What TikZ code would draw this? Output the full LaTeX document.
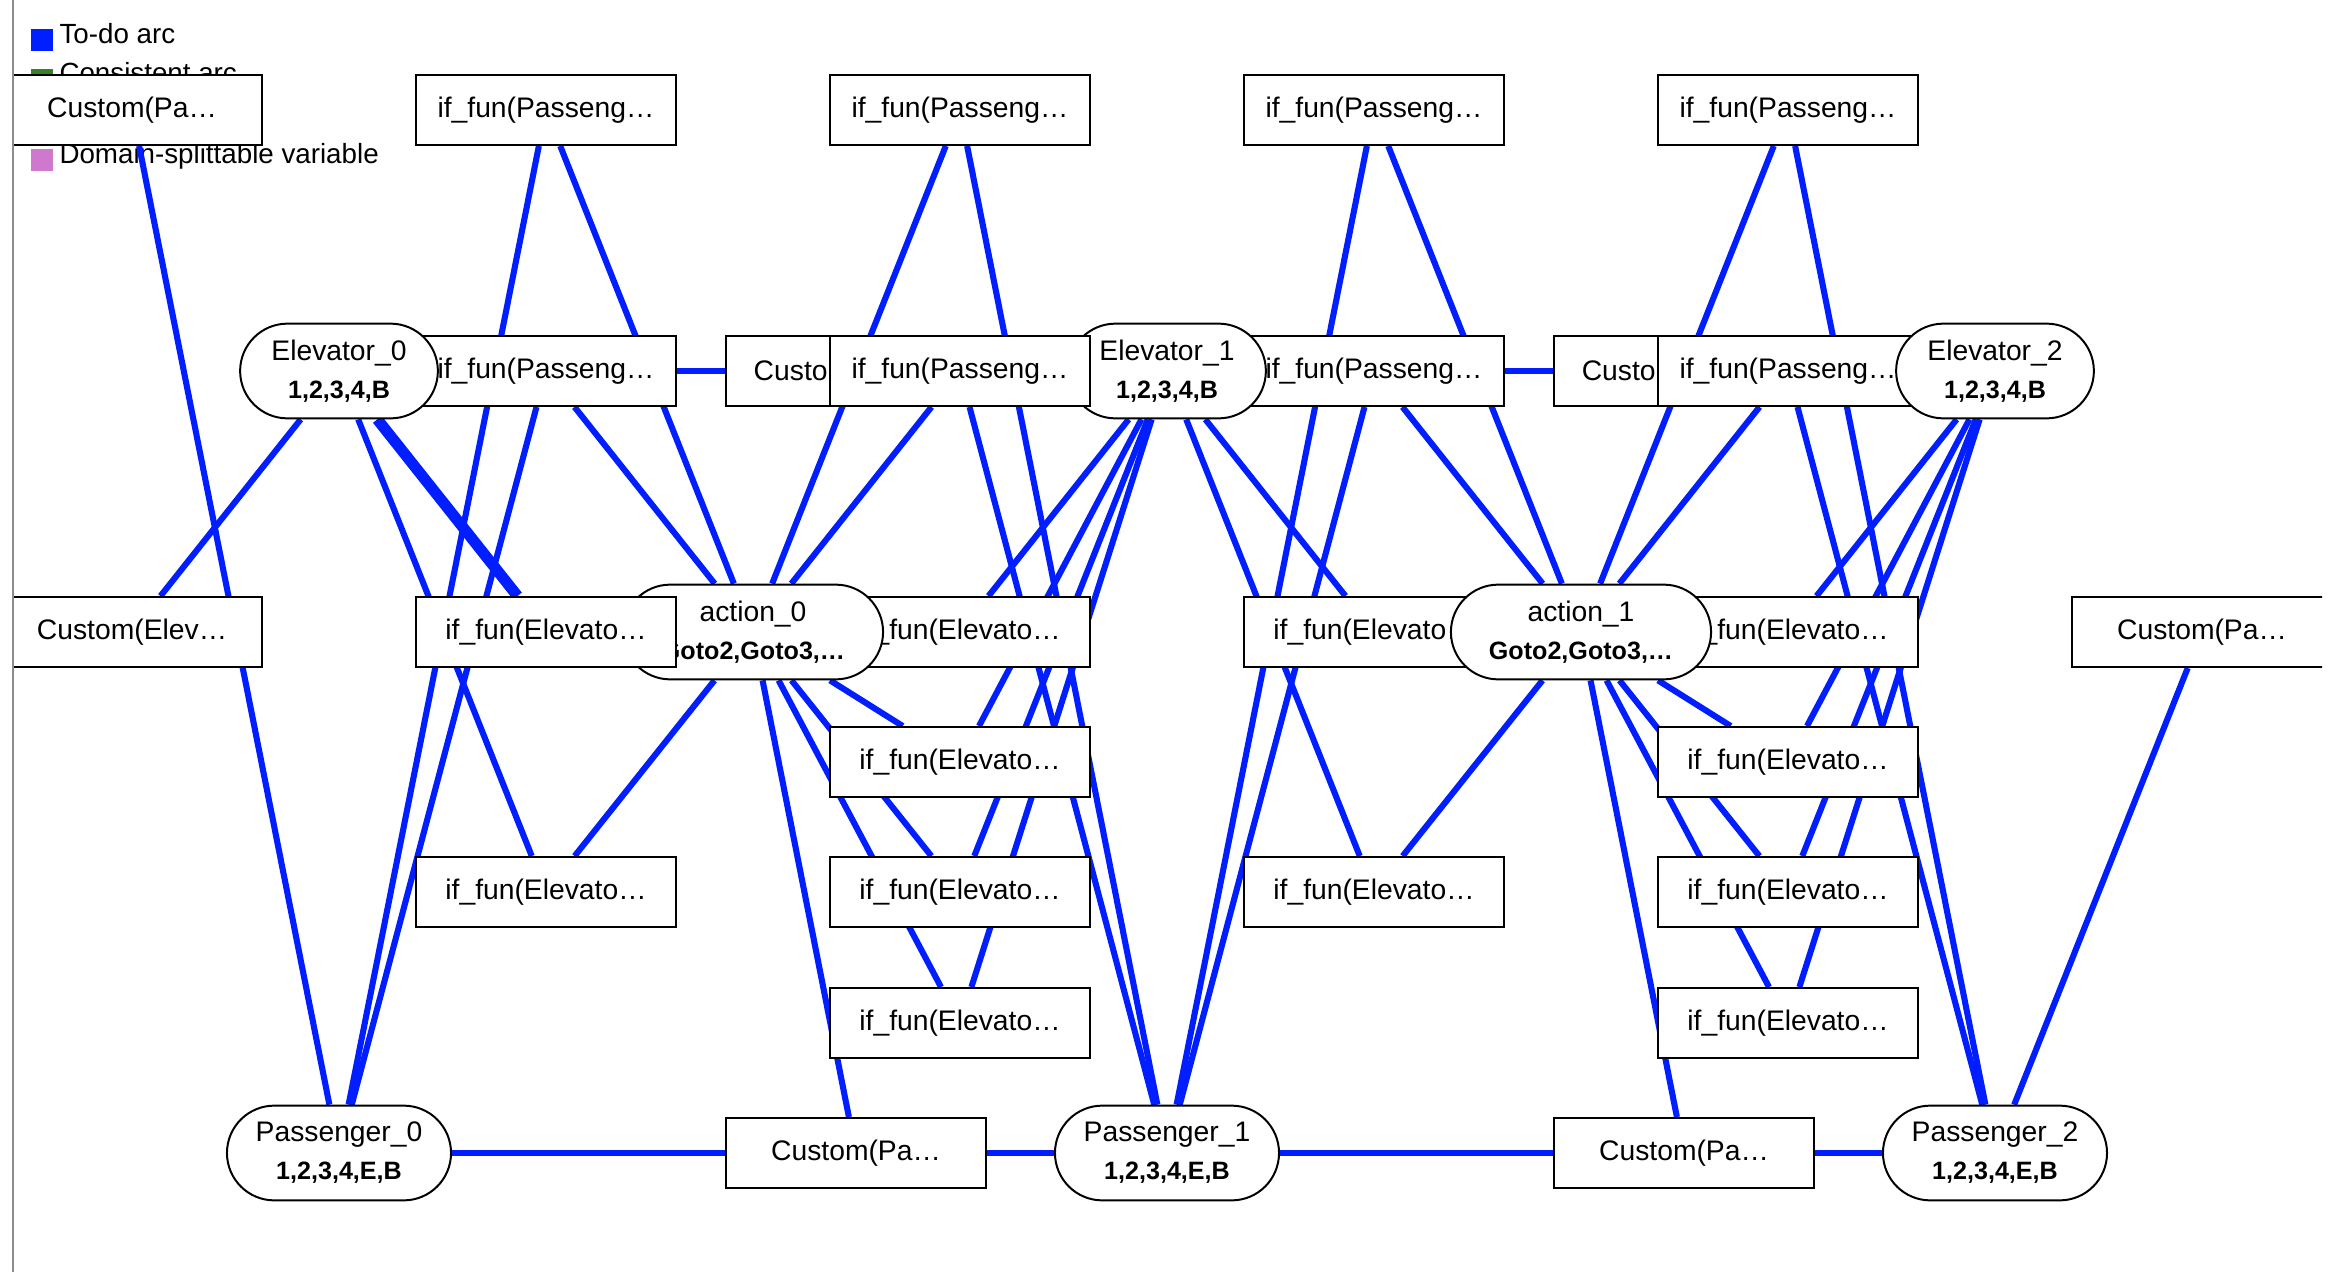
\documentclass[tikz,border=0pt]{standalone}
\usepackage{fontspec}
\setmainfont{Liberation Sans}
\usetikzlibrary{backgrounds}
\definecolor{todo}{RGB}{0,30,255}
\definecolor{consistent}{RGB}{56,128,40}
\definecolor{splittable}{RGB}{206,120,206}
\newcommand{\lblfont}{\fontsize{10.7}{14.4}\selectfont}
\newcommand{\domfont}{\bfseries\fontsize{9.5}{14.4}\selectfont}

\begin{document}
\begin{tikzpicture}[x=0.133mm,y=-0.133mm,
    con/.style={draw,fill=white,line width=0.75pt,minimum width=34.6mm,minimum height=9.3mm,inner sep=0pt,font=\lblfont},
    cut/.style={con,align=left,inner xsep=3.7mm,text width=27.2mm},
    var/.style={draw,fill=white,line width=0.75pt,rounded corners=6.3mm,minimum height=12.6mm,inner sep=0pt,align=center,font=\lblfont},
    todoarc/.style={todo,line width=2.3pt},
    dblarc/.style={todo,line width=4.2pt},
    key/.style={anchor=base west,inner sep=0pt,font=\fontsize{10.5}{12}\selectfont}]
    \useasboundingbox (0,0) rectangle (2346,1272);

    % legend
    \begin{scope}[on background layer]
    \fill[todo]       (31,29)  rectangle (53,51);
    \fill[consistent] (31,69)  rectangle (53,91);
    \fill[splittable] (31,149) rectangle (53,171);
    \node[key] (ktodo)  at (59,43)  {To-do arc};
    \node[key] (kcons)  at (59,83)  {Consistent arc};
    \node[key] (ksplit) at (59,163) {Domain-splittable variable};
    \end{scope}

    \clip (12,0) rectangle (2322,1272);

    % top row
    \node[con] (C1) at (132,110)  {Custom(Pa…};
    \node[con] (T1) at (546,110)  {if\_fun(Passeng…};
    \node[con] (T2) at (960,110)  {if\_fun(Passeng…};
    \node[con] (T3) at (1374,110) {if\_fun(Passeng…};
    \node[con] (T4) at (1788,110) {if\_fun(Passeng…};

    % elevators
    \node[con] (P1)  at (546,371)  {if\_fun(Passeng…};
    \node[var,minimum width=26.3mm] (E0) at (339,371) {Elevator\_0\\{\domfont 1,2,3,4,B}};
    \node[cut] (Cu1) at (856,371)  {Custo};
    \node[con] (P3)  at (1374,371) {if\_fun(Passeng…};
    \node[var,minimum width=26.3mm] (E1) at (1167,371) {Elevator\_1\\{\domfont 1,2,3,4,B}};
    \node[con] (P2)  at (960,371)  {if\_fun(Passeng…};
    \node[cut] (Cu2) at (1684,371) {Custo};
    \node[con] (P4)  at (1788,371) {if\_fun(Passeng…};
    \node[var,minimum width=26.3mm] (E2) at (1995,371) {Elevator\_2\\{\domfont 1,2,3,4,B}};

    % actions
    \node[con] (M0) at (132,632)  {Custom(Elev…};
    \node[con] (M2) at (960,632)  {if\_fun(Elevato…};
    \node[var,minimum width=34.6mm] (A0) at (753,632) {action\_0\\{\domfont Goto2,Goto3,…}};
    \node[con] (M1) at (546,632)  {if\_fun(Elevato…};
    \node[con] (M3) at (1374,632) {if\_fun(Elevato…};
    \node[con] (M4) at (1788,632) {if\_fun(Elevato…};
    \node[var,minimum width=34.6mm] (A1) at (1581,632) {action\_1\\{\domfont Goto2,Goto3,…}};
    \node[con] (M5) at (2202,632) {Custom(Pa…};

    \node[con] (L1) at (960,762)  {if\_fun(Elevato…};
    \node[con] (L2) at (1788,762) {if\_fun(Elevato…};
    \node[con] (B1) at (546,892)  {if\_fun(Elevato…};
    \node[con] (B2) at (960,892)  {if\_fun(Elevato…};
    \node[con] (B3) at (1374,892) {if\_fun(Elevato…};
    \node[con] (B4) at (1788,892) {if\_fun(Elevato…};
    \node[con] (K1) at (960,1023)  {if\_fun(Elevato…};
    \node[con] (K2) at (1788,1023) {if\_fun(Elevato…};

    % passengers
    \node[var,minimum width=29.8mm] (Pa0) at (339,1153)  {Passenger\_0\\{\domfont 1,2,3,4,E,B}};
    \node[con] (Q1) at (856,1153)  {Custom(Pa…};
    \node[var,minimum width=29.8mm] (Pa1) at (1167,1153) {Passenger\_1\\{\domfont 1,2,3,4,E,B}};
    \node[con] (Q2) at (1684,1153) {Custom(Pa…};
    \node[var,minimum width=29.8mm] (Pa2) at (1995,1153) {Passenger\_2\\{\domfont 1,2,3,4,E,B}};

    \draw[gray!90,line width=0.75pt] (13,0) -- (13,1272);

    % arcs
    \begin{scope}[on background layer]
    \draw[todoarc] (C1) -- (Pa0);
    \draw[todoarc] (M0) -- (E0);
    \draw[todoarc] (T1) -- (Pa0);  \draw[todoarc] (T1) -- (A0);
    \draw[todoarc] (P1) -- (Pa0);  \draw[todoarc] (P1) -- (A0);
    \draw[todoarc] (T2) -- (A0);   \draw[todoarc] (T2) -- (Pa1);
    \draw[todoarc] (P2) -- (A0);   \draw[todoarc] (P2) -- (Pa1);
    \draw[todoarc] (T3) -- (Pa1);  \draw[todoarc] (T3) -- (A1);
    \draw[todoarc] (P3) -- (Pa1);  \draw[todoarc] (P3) -- (A1);
    \draw[todoarc] (T4) -- (A1);   \draw[todoarc] (T4) -- (Pa2);
    \draw[todoarc] (P4) -- (A1);   \draw[todoarc] (P4) -- (Pa2);
    \draw[todoarc] (E0) -- (Cu1);
    \draw[todoarc] (E1) -- (Cu2);
    \draw[dblarc]  (E0) -- (M1);
    \draw[todoarc] (E0) -- (B1);
    \foreach \c in {B1,Q1,K1,B2,L1}
        \draw[todoarc] (A0) -- (\c);
    \foreach \c in {M2,L1,B2,K1,M3,B3}
        \draw[todoarc] (E1) -- (\c);
    \foreach \c in {B3,Q2,K2,B4,L2}
        \draw[todoarc] (A1) -- (\c);
    \foreach \c in {M4,L2,B4,K2}
        \draw[todoarc] (E2) -- (\c);
    \draw[todoarc] (Pa0) -- (Q1);
    \draw[todoarc] (Q1) -- (Pa1);
    \draw[todoarc] (Pa1) -- (Q2);
    \draw[todoarc] (Q2) -- (Pa2);
    \draw[todoarc] (M5) -- (Pa2);
    \end{scope}
\end{tikzpicture}
\end{document}
